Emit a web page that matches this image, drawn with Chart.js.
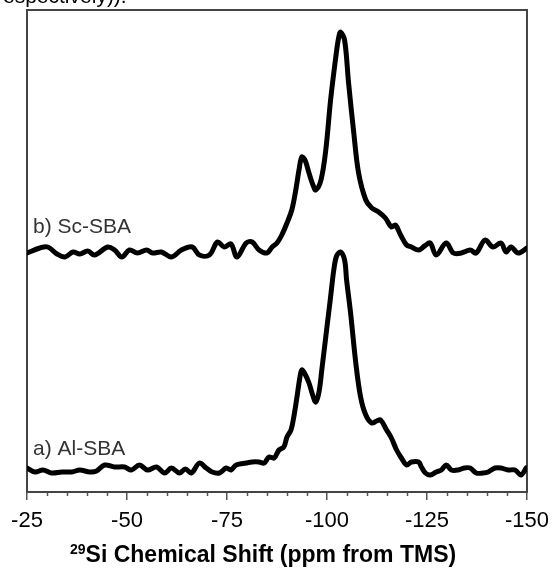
<!DOCTYPE html>
<html><head><meta charset="utf-8">
<script src="https://cdn.jsdelivr.net/npm/chart.js@4/dist/chart.umd.min.js"></script>
<style>
html,body{margin:0;padding:0;background:#fff;overflow:hidden;}
#wrap{position:relative;width:557px;height:569px;overflow:hidden;}
#cut{position:absolute;left:-4px;top:-15px;font:21px "Liberation Sans",Arial,sans-serif;line-height:21px;color:#000;white-space:nowrap;}
canvas{position:absolute;left:0;top:0;}
</style></head><body>
<div id="wrap"><canvas id="c" width="557" height="569"></canvas><div id="cut">respectively)).</div></div>
<script>
// b) Sc-SBA trace (chemical shift, ppm ; intensity, arbitrary units incl. stacking offset)
const scShift = [-25.0,-28.2,-30.2,-32.5,-34.5,-36.5,-38.2,-40.2,-41.9,-45.2,-46.9,-48.7,-50.6,-52.6,-54.9,-56.4,-58.6,-61.1,-63.6,-66.3,-68.1,-70.6,-72.6,-74.3,-76.0,-77.5,-79.8,-81.3,-83.0,-85.0,-86.3,-87.5,-88.7,-90.0,-91.2,-92.2,-93.0,-93.7,-94.5,-95.5,-96.5,-97.2,-98.5,-99.7,-100.9,-102.2,-102.9,-103.4,-104.4,-105.4,-106.7,-107.9,-109.7,-111.2,-112.9,-114.6,-116.1,-117.1,-118.4,-119.9,-121.1,-122.9,-124.4,-125.8,-127.3,-129.8,-131.6,-133.6,-135.8,-137.3,-139.5,-141.5,-143.5,-144.8,-146.0,-147.8,-150.0];
const scInt = [239,244,245,238,235,240,238,241,237,245,242,235,242,239,242,239,240,235,242,245,237,237,250,245,248,235,249,250,242,239,245,249,257,269,282,302,322,335,332,319,307,302,312,342,392,435,454,460,452,409,359,319,292,284,280,274,265,267,257,247,245,242,246,249,237,249,239,239,242,239,252,245,249,240,245,239,244];
// a) Al-SBA trace
const alShift = [-25.0,-27.0,-29.0,-31.2,-33.7,-36.2,-38.2,-40.7,-42.4,-44.4,-46.9,-49.4,-51.1,-53.1,-55.1,-57.4,-59.4,-61.1,-63.1,-64.6,-66.1,-68.1,-69.8,-71.3,-73.1,-74.8,-76.0,-77.3,-79.8,-81.3,-83.0,-84.3,-85.5,-86.8,-88.0,-89.2,-90.0,-91.0,-91.7,-92.5,-93.2,-93.7,-94.5,-95.5,-96.5,-97.2,-98.0,-98.7,-99.9,-100.9,-101.7,-102.4,-103.4,-104.4,-104.9,-105.9,-107.2,-108.4,-109.7,-111.2,-112.4,-113.4,-114.9,-116.1,-117.4,-118.6,-119.9,-121.1,-122.9,-123.6,-124.6,-125.8,-127.3,-128.6,-129.8,-131.1,-132.8,-134.3,-135.8,-137.3,-139.0,-140.3,-142.0,-143.5,-145.3,-147.0,-148.5,-149.8];
const alInt = [24,20,22,19,20,20,22,20,21,27,25,25,22,27,22,25,19,24,19,23,19,29,24,20,19,24,22,27,29,30,30,29,35,34,42,45,55,62,75,95,114,122,118,109,96,90,100,122,162,195,222,236,240,232,212,179,129,95,77,69,71,72,62,54,42,34,27,30,30,25,19,17,20,22,27,22,22,24,24,19,19,20,24,24,22,22,17,24];
const seriesLabels = ["b) Sc-SBA", "a) Al-SBA"];
const xTicks = [-25,-50,-75,-100,-125,-150];
const axisTitleSup = "29";
const axisTitleMain = "Si Chemical Shift (ppm from TMS)";

const pairs = (xs, ys) => xs.map((x, i) => ({x, y: ys[i]}));

const decor = {
  id: 'decor',
  beforeDatasetsDraw(chart) {
    const {ctx, chartArea: a, scales: {x}} = chart;
    ctx.save();
    ctx.strokeStyle = '#555';
    ctx.lineWidth = 1.5;
    for (let v = -25; v >= -150; v -= 5) {
      if (v % 25 === 0) continue;
      const px = Math.round(x.getPixelForValue(v)) + 0.5;
      ctx.beginPath(); ctx.moveTo(px, a.bottom); ctx.lineTo(px, a.bottom + 4); ctx.stroke();
    }
    ctx.strokeStyle = '#444';
    ctx.lineWidth = 2;
    ctx.strokeRect(a.left, a.top, a.right - a.left, a.bottom - a.top);
    ctx.restore();
  },
  afterDraw(chart) {
    const {ctx, chartArea: a} = chart;
    ctx.save();
    ctx.fillStyle = '#333';
    ctx.font = '21px "Liberation Sans", Arial, sans-serif';
    ctx.textBaseline = 'alphabetic';
    ctx.textAlign = 'left';
    ctx.fillText(seriesLabels[0], a.left + 6, 233);
    ctx.fillText(seriesLabels[1], a.left + 6, 455);
    ctx.fillStyle = '#000';
    ctx.font = 'bold 14px "Liberation Sans", Arial, sans-serif';
    const sx = 70, base = 562;
    ctx.fillText(axisTitleSup, sx, base - 8);
    const w = ctx.measureText(axisTitleSup).width;
    ctx.font = 'bold 23px "Liberation Sans", Arial, sans-serif';
    ctx.fillText(axisTitleMain, sx + w, base);
    ctx.restore();
  }
};

new Chart(document.getElementById('c'), {
  type: 'line',
  data: {
    datasets: [
      {label: seriesLabels[0], data: pairs(scShift, scInt)},
      {label: seriesLabels[1], data: pairs(alShift, alInt)}
    ]
  },
  options: {
    responsive: false,
    animation: false,
    layout: {padding: {left: 27, right: 28, top: 10, bottom: 0}},
    elements: {
      line: {borderColor: '#000', borderWidth: 5, tension: 0.35, fill: false, borderCapStyle: 'round', borderJoinStyle: 'round'},
      point: {radius: 0}
    },
    plugins: {legend: {display: false}, tooltip: {enabled: false}},
    scales: {
      x: {
        type: 'linear', min: -150, max: -25, reverse: true,
        afterBuildTicks: (s) => { s.ticks = xTicks.map(v => ({value: v})); },
        afterFit: (s) => { s.height = 77; },
        ticks: {color: '#000', font: {size: 22, family: '"Liberation Sans", Arial, sans-serif'}, padding: 8, maxRotation: 0, autoSkip: false},
        grid: {display: true, drawOnChartArea: false, drawTicks: true, tickLength: 8, color: '#555', lineWidth: 1.5},
        border: {display: true, color: '#444', width: 2}
      },
      y: {display: false, min: 0, max: 482}
    }
  },
  plugins: [decor]
});
</script>
</body></html>
